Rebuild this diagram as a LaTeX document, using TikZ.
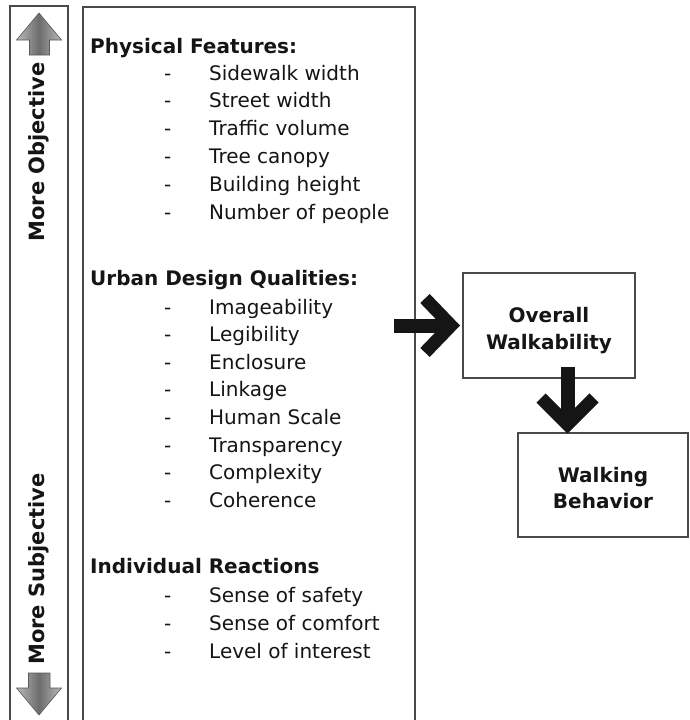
\documentclass[tikz,border=0pt]{standalone}
\usepackage{fontspec}
\setmainfont{DejaVu Sans}
\usetikzlibrary{calc}
\definecolor{ink}{HTML}{151515}
\definecolor{frame}{HTML}{4A4A4A}
\tikzset{
 panel/.style={draw=frame, line width=1.4pt, fill=white, inner sep=0pt, outer sep=0pt},
 headtxt/.style={font=\bfseries\fontsize{20}{24}\selectfont, text=ink, inner sep=0pt, anchor=base west},
 itemtxt/.style={font=\fontsize{20}{24}\selectfont, text=ink, inner sep=0pt, anchor=base west},
 boxtxt/.style={font=\bfseries\fontsize{20}{24}\selectfont, text=ink, inner sep=0pt, anchor=base},
 sidetxt/.style={font=\bfseries\fontsize{21}{24}\selectfont, text=ink, inner sep=0pt, rotate=90},
 shaft/.style={fill=ink},
 chev/.style={draw=ink, line width=13pt, line join=miter},
 grayarrow/.style={draw=gray!70!black, line width=0.6pt, left color=gray!55, right color=gray!55, middle color=gray!85!black}
}
\begin{document}
\begin{tikzpicture}[x=1pt,y=-1pt]
\useasboundingbox (0,0) rectangle (690,720);
\fill[white] (0,0) rectangle (690,720);
\clip (0,0) rectangle (690,720);

% panels
\node[panel, anchor=north west, minimum width=58pt, minimum height=740pt] (bar) at (10,6) {};
\node[panel, anchor=north west, minimum width=332pt, minimum height=740pt] (main) at (83,7) {};
\node[panel, minimum width=172pt, minimum height=105pt] (over) at (549,325.5) {};
\node[panel, minimum width=170pt, minimum height=104pt] (walk) at (603,485) {};

% side labels and gray arrows
\node[sidetxt] (obj) at (38.5,152) {More Objective};
\node[sidetxt] (subj) at (38.5,569) {More Subjective};
\path[grayarrow] (39,13) -- (61.5,40) -- (49.5,40) -- (49.5,55) -- (29.5,55) -- (29.5,40) -- (16.5,40) -- cycle;
\path[grayarrow] (39,715) -- (61.5,688) -- (50,688) -- (50,673) -- (28.5,673) -- (28.5,688) -- (16.5,688) -- cycle;

% Physical features
\node[headtxt] (h1) at (90,53) {Physical Features:};
\foreach \t [count=\i] in {Sidewalk width, Street width, Traffic volume, Tree canopy, Building height, Number of people} {
  \node[itemtxt] (pd\i) at (164,{80+27.8*(\i-1)}) {-};
  \node[itemtxt] (pf\i) at (209,{80+27.8*(\i-1)}) {\t};
}
% Urban design qualities
\node[headtxt] (h2) at (90,285) {Urban Design Qualities:};
\foreach \t [count=\i] in {Imageability, Legibility, Enclosure, Linkage, Human Scale, Transparency, Complexity, Coherence} {
  \node[itemtxt] (ud\i) at (164,{314+27.6*(\i-1)}) {-};
  \node[itemtxt] (uq\i) at (209,{314+27.6*(\i-1)}) {\t};
}
% Individual reactions
\node[headtxt] (h3) at (90,573) {Individual Reactions};
\foreach \t [count=\i] in {Sense of safety, Sense of comfort, Level of interest} {
  \node[itemtxt] (id\i) at (164,{602+28*(\i-1)}) {-};
  \node[itemtxt] (ir\i) at (209,{602+28*(\i-1)}) {\t};
}

% box texts
\node[boxtxt] (ot1) at (549,322) {Overall};
\node[boxtxt] (ot2) at (549,349) {Walkability};
\node[boxtxt] (wt1) at (603,482) {Walking};
\node[boxtxt] (wt2) at (603,508) {Behavior};

% block arrows
\fill[shaft] ($(over.west)+(-69,-7)$) rectangle ($(over.west)+(-11,7)$);
\draw[chev] ($(over.west)+(-38,-27)$) -- ($(over.west)+(-12,0)$) -- ($(over.west)+(-38,27)$);
\fill[shaft] ($(over.south)+(11.5,-11)$) rectangle ($(over.south)+(25.5,44)$);
\draw[chev] ($(over.south)+(-8,20)$) -- ($(over.south)+(18.5,46.5)$) -- ($(over.south)+(45,20)$);
\end{tikzpicture}
\end{document}
